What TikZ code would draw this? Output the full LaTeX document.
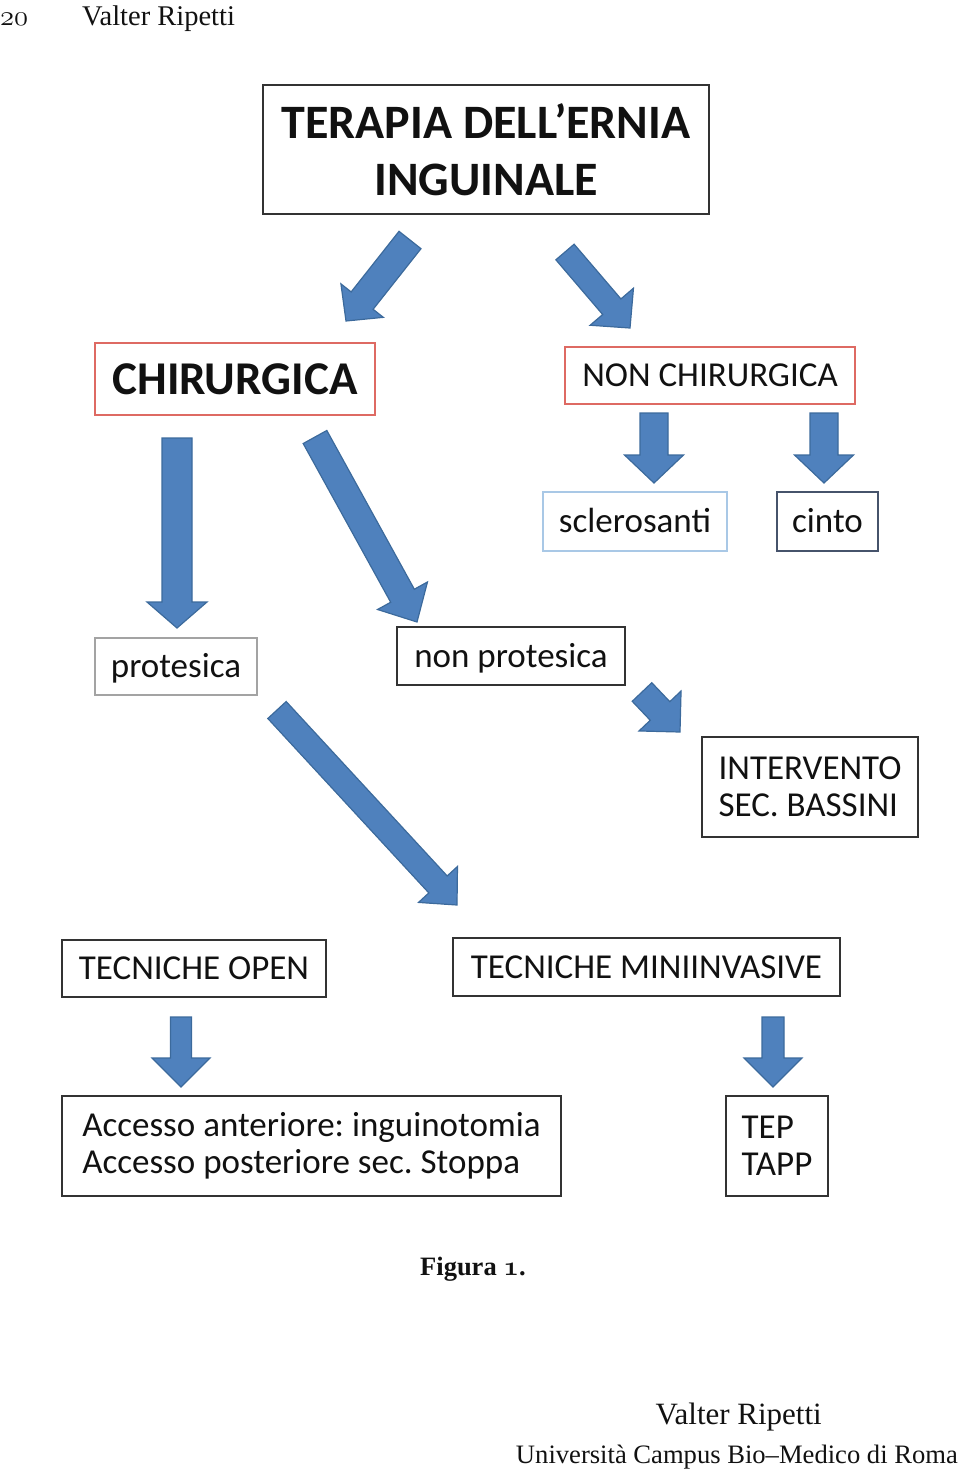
\documentclass[tikz,border=0pt]{standalone}
\usepackage{graphicx}
\usepackage{fontspec}
\newfontfamily\calibri{Carlito}
\newfontfamily\bookserif{Liberation Serif}
\usetikzlibrary{calc}
\definecolor{ArrFill}{HTML}{4F81BD}
\definecolor{ArrEdge}{HTML}{3C6A9C}
\definecolor{Ink}{HTML}{111111}
\definecolor{EdgeDark}{HTML}{333333}
\definecolor{EdgeRed}{HTML}{DE6A63}
\definecolor{EdgeSky}{HTML}{A9C8E6}
\definecolor{EdgeSlate}{HTML}{46536B}
\definecolor{EdgeGrey}{HTML}{A3A3A3}

\newcommand{\osnum}[1]{{\usefont{OML}{cmm}{m}{it}#1}}
\newcommand{\osnumbf}[1]{{\usefont{OML}{cmm}{b}{it}#1}}

% block arrow: tail, tip, half shaft, half head, head length
\newcommand{\blockarr}[5]{%
  \coordinate (bn) at ($(#2)!#5!(#1)$);
  \draw[barrow] ($(#1)!#3!90:(#2)$) -- ($(bn)!#3!90:(#2)$) -- ($(bn)!#4!90:(#2)$) -- (#2)
    -- ($(bn)!#4!-90:(#2)$) -- ($(bn)!#3!-90:(#2)$) -- ($(#1)!#3!-90:(#2)$) -- cycle;
}

\tikzset{
  card/.style={draw=EdgeDark, line width=2pt, inner sep=0pt, text=Ink,
    font=\calibri\frenchspacing\fontsize{35}{37}\selectfont},
  cardone/.style={card, text height=22pt, text depth=0pt},
  headcard/.style={card, align=center, font=\calibri\bfseries\fontsize{48}{57}\selectfont},
  serif/.style={inner sep=0pt, text=Ink},
  barrow/.style={fill=ArrFill, draw=ArrEdge, line width=1.2pt, line join=miter},
}

\begin{document}
\begin{tikzpicture}[x=1pt,y=-1pt]
  \useasboundingbox (0,0) rectangle (960,1470);
  % running head
  \node[serif, anchor=base west, font=\fontsize{24.88}{30}\selectfont] (pagenum) at (0,25)
    {\scalebox{1.15}{\osnum{20}}};
  \node[serif, anchor=base west, font=\bookserif\fontsize{28.5}{32}\selectfont] (runhead) at (82,25) {Valter Ripetti};

  % boxes
  \node[headcard, minimum width=446, minimum height=129] (terapia) at (486,149.5) {TERAPIA DELL’ERNIA\\INGUINALE};
  \node[cardone, draw=EdgeRed, font=\calibri\bfseries\fontsize{47}{56}\selectfont, text height=30pt,
    minimum width=280, minimum height=72] (chir) at (235,379) {CHIRURGICA};
  \node[cardone, draw=EdgeRed, minimum width=290, minimum height=57] (nonchir) at (710,375.5) {NON CHIRURGICA};
  \node[cardone, draw=EdgeSky, minimum width=184, minimum height=59] (scler) at (635,521.5) {sclerosanti};
  \node[cardone, draw=EdgeSlate, minimum width=101, minimum height=59] (cinto) at (827.5,521.5) {cinto};
  \node[cardone, draw=EdgeGrey, minimum width=162, minimum height=57] (prot) at (176,666.5) {protesica};
  \node[cardone, minimum width=228, minimum height=58] (nonprot) at (511,656) {non protesica};
  \node[card, align=left, minimum width=216, minimum height=100] (bassini) at (810,787)
    {INTERVENTO\\SEC. BASSINI};
  \node[cardone, minimum width=264, minimum height=57] (open) at (194,968.5) {TECNICHE OPEN};
  \node[cardone, minimum width=387, minimum height=58] (mini) at (646.5,967) {TECNICHE MINIINVASIVE};
  \node[card, align=left, minimum width=499, minimum height=100] (accesso) at (311.5,1146)
    {Accesso anteriore: inguinotomia\\Accesso posteriore sec. Stoppa};
  \node[card, align=left, minimum width=102, minimum height=100] (tep) at (777,1146)
    {TEP\\TAPP};

  % arrow ends
  \coordinate (t1) at (410,240);   \coordinate (h1) at (346,321);
  \coordinate (t2) at (565,252);   \coordinate (h2) at (630,328);
  \coordinate (t3) at (177,438);   \coordinate (h3) at (177,628);
  \coordinate (t4) at (315,437);   \coordinate (h4) at (417,622);
  \coordinate (t5) at (654,413);   \coordinate (h5) at (654,483);
  \coordinate (t6) at (824,413);   \coordinate (h6) at (824,483);
  \coordinate (t7) at (642,692);   \coordinate (h7) at (680,732);
  \coordinate (t8) at (277,710);   \coordinate (h8) at (457,905);
  \coordinate (t9) at (181,1017);  \coordinate (h9) at (181,1087);
  \coordinate (t10) at (773,1017); \coordinate (h10) at (773,1087);
  \foreach \s/\e/\sw/\hw/\hl in {t1/h1/14pt/27pt/26pt, t2/h2/12pt/28.5pt/28pt,
      t3/h3/15pt/30pt/26pt, t4/h4/13.5pt/28.5pt/30pt, t5/h5/14pt/29.5pt/28pt,
      t6/h6/14pt/29.5pt/28pt, t7/h7/13.5pt/29pt/29pt, t8/h8/12.5pt/26.5pt/28pt,
      t9/h9/10.5pt/29pt/29pt, t10/h10/11pt/29pt/29pt}
    {\blockarr{\s}{\e}{\sw}{\hw}{\hl}}

  % caption and footer
  \node[serif, anchor=base west, font=\bookserif\bfseries\fontsize{26.5}{28}\selectfont] (caption) at (420,1275)
    {Figura \scalebox{1.1}{\osnumbf{1}}.};
  \node[serif, anchor=base east, font=\bookserif\fontsize{31}{34}\selectfont] (author) at (822,1424) {Valter Ripetti};
  \node[serif, anchor=base east, font=\bookserif\fontsize{26.6}{30}\selectfont] (affil) at (958,1463)
    {Università Campus Bio–Medico di Roma};
\end{tikzpicture}
\end{document}
